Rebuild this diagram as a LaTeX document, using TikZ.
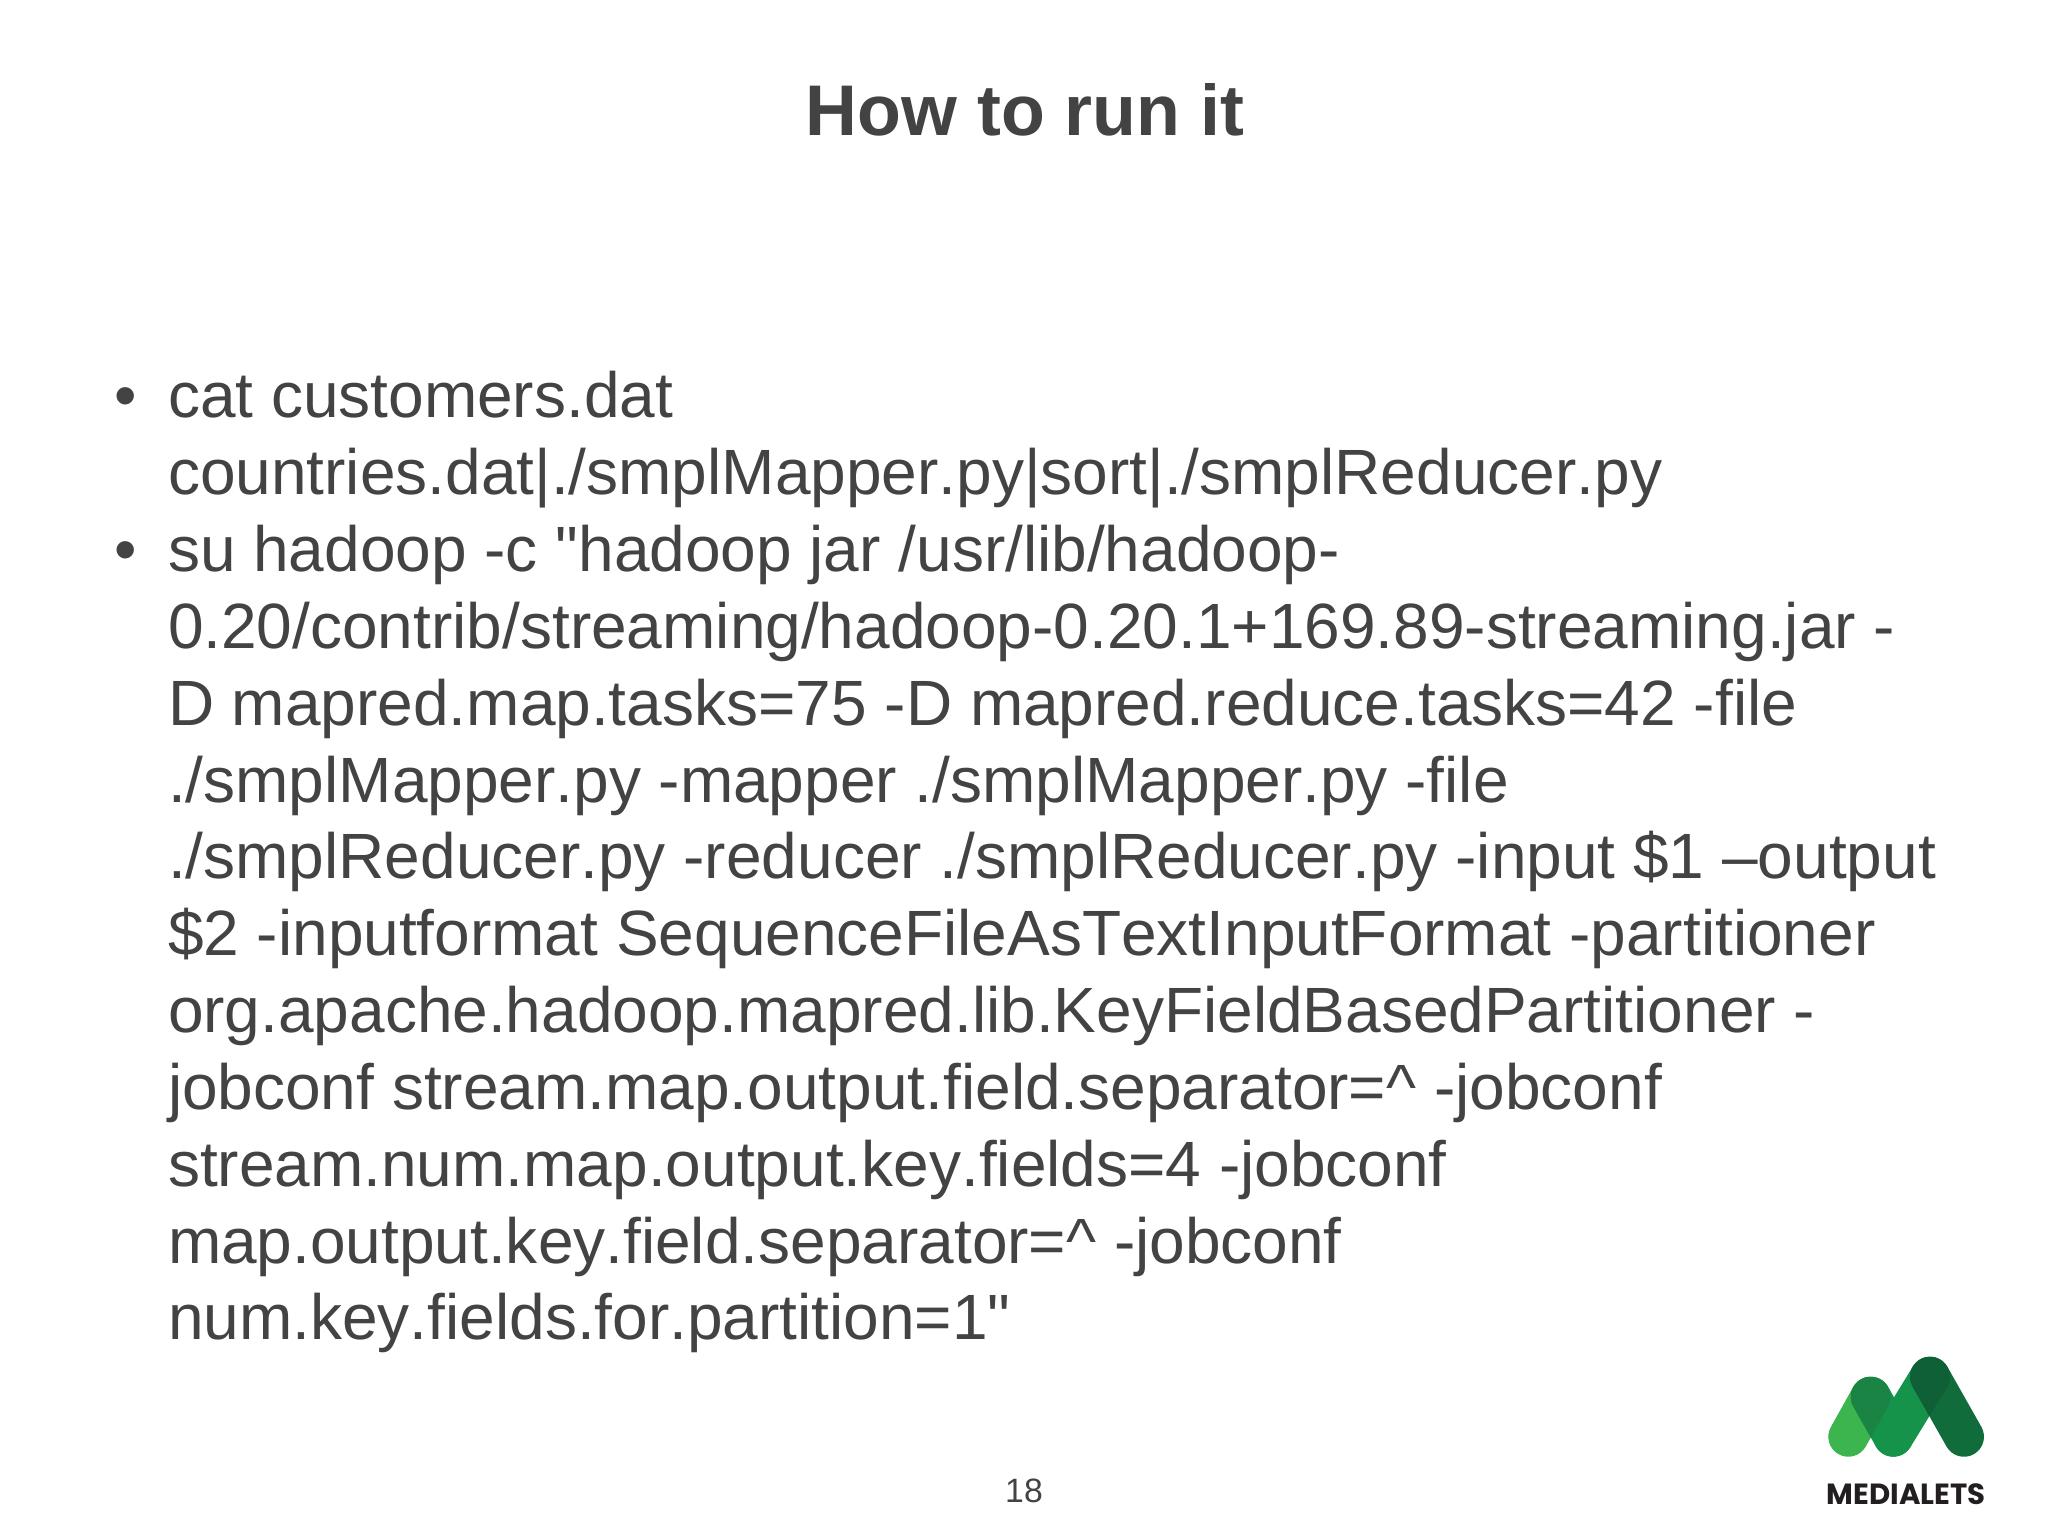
\documentclass[tikz,border=0pt]{standalone}
\usepackage{fontspec}
\setmainfont{Liberation Sans}[Ligatures=TeXOff,Kerning=Off]
\newfontfamily\logofont{Poppins}
\definecolor{txt}{HTML}{434343}
\definecolor{lgLight}{HTML}{3DB54F}
\definecolor{lgLeftOv}{HTML}{1A8444}
\definecolor{lgMid}{HTML}{15934A}
\definecolor{lgDark}{HTML}{116C3C}
\definecolor{lgDarkOv}{HTML}{0F6036}
\definecolor{lgText}{HTML}{231F20}
\newcommand\stadshape[1]{(0,-20) -- (#1,-20) arc[start angle=-90,end angle=90,radius=20] -- (0,20) arc[start angle=90,end angle=270,radius=20] -- cycle}
\tikzset{
  x=0.01cm,y=0.01cm,
  bodyline/.style={anchor=base west,inner sep=0pt,outer sep=0pt,text=txt,font=\fontsize{18.2pt}{22pt}\selectfont},
  bulletmark/.style={anchor=base west,inner sep=0pt,outer sep=0pt,text=txt,font=\fontsize{18.2pt}{22pt}\selectfont},
  st1/.style={shift={(1848.3,-1436.7)},rotate=60.75},
  st2/.style={shift={(1870.7,-1396.7)},rotate=-60.5},
  st3/.style={shift={(1893.3,-1436.7)},rotate=58.5},
  st4/.style={shift={(1930,-1376.7)},rotate=-60.5},
}
\begin{document}
\begin{tikzpicture}
\useasboundingbox (0,0) rectangle (2048,-1536);
\fill[white] (0,0) rectangle (2048,-1536);
\node[anchor=base,inner sep=0pt,text=txt,font=\fontsize{20.4pt}{24pt}\selectfont\bfseries] (title) at (1025,-135.5) {How to run it};
\node[bulletmark] (b1) at (114,-417) {•};
\node[bulletmark] (b2) at (114,-571) {•};
\node[bodyline] (l1) at (168,-417) {cat customers.dat};
\node[bodyline] (l2) at (168,-494) {countries.dat|./smplMapper.py|sort|./smplReducer.py};
\node[bodyline] (l3) at (168,-571) {su hadoop -c "hadoop jar /usr/lib/hadoop-};
\node[bodyline] (l4) at (168,-648) {0.20/contrib/streaming/hadoop-0.20.1+169.89-streaming.jar -};
\node[bodyline] (l5) at (168,-725) {D mapred.map.tasks=75 -D mapred.reduce.tasks=42 -file};
\node[bodyline] (l6) at (168,-802) {./smplMapper.py -mapper ./smplMapper.py -file};
\node[bodyline] (l7) at (168,-878) {./smplReducer.py -reducer ./smplReducer.py -input \$1 –output};
\node[bodyline] (l8) at (168,-955) {\$2 -inputformat SequenceFileAsTextInputFormat -partitioner};
\node[bodyline] (l9) at (168,-1032) {org.apache.hadoop.mapred.lib.KeyFieldBasedPartitioner -};
\node[bodyline] (l10) at (168,-1109) {jobconf stream.map.output.field.separator=\textasciicircum{} -jobconf};
\node[bodyline] (l11) at (168,-1186) {stream.num.map.output.key.fields=4 -jobconf};
\node[bodyline] (l12) at (168,-1263) {map.output.key.field.separator=\textasciicircum{} -jobconf};
\node[bodyline] (l13) at (168,-1339) {num.key.fields.for.partition=1"};
\node[anchor=base,inner sep=0pt,text=txt,font=\fontsize{9.6pt}{12pt}\selectfont] (page) at (1024,-1502) {18};
% logo
\fill[lgLight,st1] \stadshape{45.8};
\fill[lgMid,st2] \stadshape{45.9};
\fill[lgMid,st3] \stadshape{70.3};
\begin{scope}
\clip[st1] \stadshape{45.8};
\fill[lgLeftOv,st2] \stadshape{45.9};
\end{scope}
\fill[lgDark,st4] \stadshape{69};
\begin{scope}
\clip[st3] \stadshape{70.3};
\fill[lgDarkOv,st4] \stadshape{69};
\end{scope}
\node[anchor=base,inner sep=0pt,text=lgText,font=\logofont\bfseries\fontsize{8.3pt}{10pt}\selectfont] (logotext) at (1906,-1504) {MEDIALETS};
\end{tikzpicture}
\end{document}
